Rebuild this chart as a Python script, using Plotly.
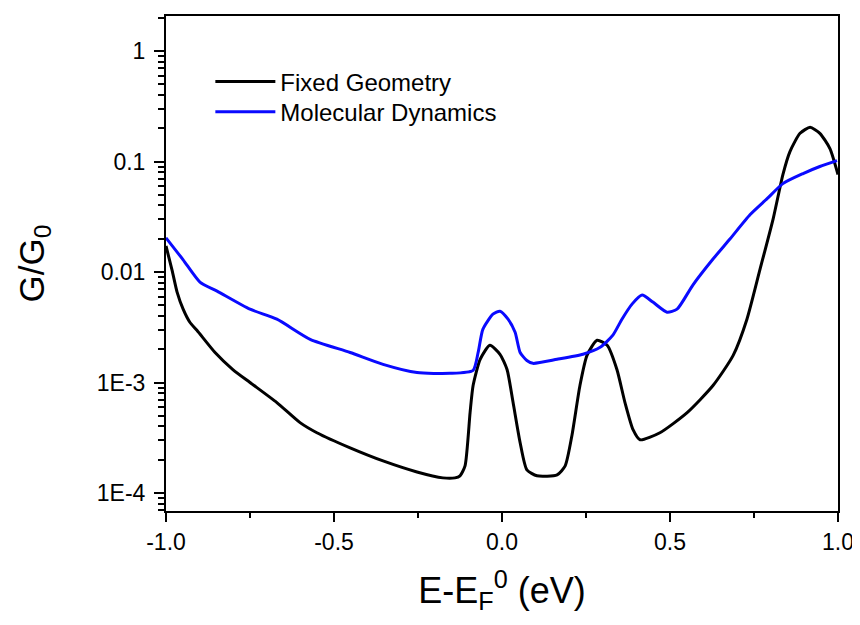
import plotly.graph_objects as go

# Fixed Geometry (black)
fixed_x = [-1.000, -0.982, -0.967, -0.949, -0.929, -0.908, -0.854, -0.801, -0.750, -0.670,
           -0.601, -0.551, -0.452, -0.354, -0.253, -0.176, -0.140, -0.125, -0.110, -0.095,
           -0.086, -0.065, -0.036, -0.006, 0.015, 0.033, 0.054, 0.074, 0.104, 0.164,
           0.188, 0.208, 0.232, 0.253, 0.283, 0.313, 0.342, 0.366, 0.390, 0.411,
           0.470, 0.551, 0.628, 0.688, 0.729, 0.768, 0.807, 0.836, 0.857, 0.887,
           0.917, 0.946, 0.976, 1.000]
fixed_y = [0.0172, 0.0104, 0.00658, 0.00461, 0.00351, 0.00297, 0.00187, 0.00131, 0.00100, 0.000658,
           0.000433, 0.000351, 0.000256, 0.000195, 0.000155, 0.000137, 0.000137, 0.000143, 0.000176, 0.000534,
           0.000939, 0.00162, 0.00217, 0.00180, 0.00131, 0.000658, 0.000285, 0.000162, 0.000143, 0.000146,
           0.000176, 0.000330, 0.000939, 0.00176, 0.00241, 0.00217, 0.00131, 0.000658, 0.000374, 0.000303,
           0.000351, 0.000534, 0.000939, 0.00176, 0.00374, 0.0106, 0.0303, 0.0762, 0.123, 0.180,
           0.204, 0.180, 0.131, 0.0762]

# Molecular Dynamics (blue)
md_x = [-1.000, -0.949, -0.899, -0.848, -0.750, -0.670, -0.571, -0.452, -0.354, -0.253,
        -0.155, -0.086, -0.071, -0.057, -0.027, -0.006, 0.018, 0.039, 0.054, 0.074,
        0.092, 0.164, 0.241, 0.292, 0.330, 0.357, 0.387, 0.417, 0.449, 0.491,
        0.521, 0.568, 0.628, 0.679, 0.738, 0.789, 0.836, 0.896, 0.946, 0.997]
md_y = [0.0204, 0.0129, 0.00811, 0.00672, 0.00461, 0.00374, 0.00246, 0.00187, 0.00146, 0.00123,
        0.00121, 0.00129, 0.00187, 0.00303, 0.00415, 0.00442, 0.00374, 0.00285, 0.00187, 0.00158,
        0.00149, 0.00162, 0.00180, 0.00208, 0.00268, 0.00374, 0.00512, 0.00618, 0.00534, 0.00433,
        0.00461, 0.00762, 0.0131, 0.0200, 0.0330, 0.0461, 0.0631, 0.0778, 0.0901, 0.102]

x_ticks = [-1.0, -0.5, 0.0, 0.5, 1.0]
x_tick_labels = ["-1.0", "-0.5", "0.0", "0.5", "1.0"]
x_minor = [-0.75, -0.25, 0.25, 0.75]
y_ticks = [1e-4, 1e-3, 1e-2, 1e-1, 1]
y_tick_labels = ["1E-4", "1E-3", "0.01", "0.1", "1"]
y_minor = [m * 10.0 ** e for e in range(-5, 1) for m in range(2, 10)]

FONT = "Liberation Sans, Arial, sans-serif"

fig = go.Figure()
fig.add_trace(go.Scatter(x=fixed_x, y=fixed_y, mode="lines", name="Fixed Geometry", legend="legend",
                         line=dict(color="black", width=3, shape="spline", smoothing=0.6)))
fig.add_trace(go.Scatter(x=md_x, y=md_y, mode="lines", name="Molecular Dynamics", legend="legend2",
                         line=dict(color="#0a0aff", width=3, shape="spline", smoothing=0.6)))

legend_style = dict(xanchor="left", yanchor="middle", bgcolor="rgba(0,0,0,0)",
                    font=dict(size=24, family=FONT), itemwidth=60)

# page body has an 8px margin, so the figure is sized/placed to compensate
fig.update_layout(
    width=852, height=617,
    margin=dict(l=158, r=22, t=8, b=114, autoexpand=False),
    paper_bgcolor="white", plot_bgcolor="white",
    font=dict(family=FONT, color="black"),
    showlegend=True,
    legend=dict(x=0.066, y=0.867, **legend_style),
    legend2=dict(x=0.066, y=0.806, **legend_style),
)
fig.update_xaxes(
    range=[-1.0, 1.0], showline=True, linecolor="black", linewidth=2, mirror=True,
    showgrid=False, zeroline=False, automargin=False,
    tickmode="array", tickvals=x_ticks, ticktext=x_tick_labels,
    ticks="outside", ticklen=9, tickwidth=2, tickcolor="black",
    tickfont=dict(size=23, family=FONT),
    minor=dict(tickmode="array", tickvals=x_minor, ticks="outside", ticklen=5,
               tickwidth=2, tickcolor="black", showgrid=False),
    title=dict(text="E-E<sub>F</sub><sup>0</sup> (eV)", font=dict(size=36, family=FONT), standoff=24),
)
fig.update_yaxes(
    type="log", range=[-4.163, 0.317], showline=True, linecolor="black", linewidth=2, mirror=True,
    showgrid=False, zeroline=False, automargin=False,
    tickmode="array", tickvals=y_ticks, ticktext=y_tick_labels,
    ticks="outside", ticklen=10, tickwidth=2, tickcolor="black", ticklabelstandoff=4,
    tickfont=dict(size=23, family=FONT),
    minor=dict(tickmode="array", tickvals=y_minor, ticks="outside", ticklen=6,
               tickwidth=1.5, tickcolor="black", showgrid=False),
    title=dict(text="G/G<sub>0</sub>", font=dict(size=35, family=FONT), standoff=42),
)

fig.write_html("out.html")
